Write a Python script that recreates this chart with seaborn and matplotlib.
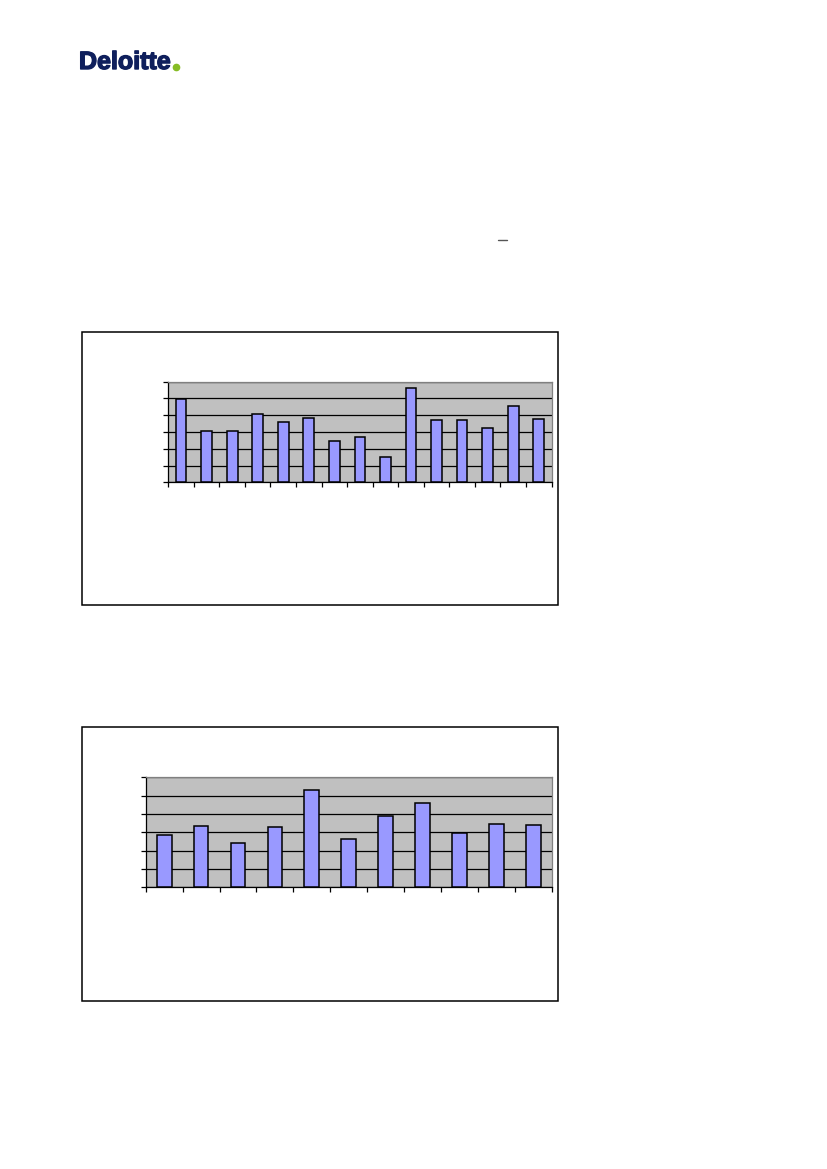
import pandas as pd
import matplotlib
matplotlib.use("Agg")
import matplotlib.pyplot as plt
import matplotlib.patheffects as pe
import seaborn as sns
from matplotlib.patches import Rectangle
from matplotlib.lines import Line2D

# values (no labels are shown in the source)
periods_1 = [str(i) for i in range(1, 16)]
values_1 = [4.94, 3.03, 3.03, 4.04, 3.57, 3.80, 2.43, 2.67, 1.53, 5.60, 3.69, 3.69, 3.21, 4.52, 3.75]

periods_2 = [str(i) for i in range(1, 12)]
values_2 = [2.84, 3.33, 2.40, 3.27, 5.29, 2.62, 3.87, 4.58, 2.95, 3.44, 3.38]

y_max = 6

BAR_COLOR = "#9999FF"
PLOT_BG = "#C0C0C0"
W, H = 827, 1169

sns.set_theme(style="white")
plt.rcParams["font.family"] = ["Liberation Sans", "DejaVu Sans"]

fig = plt.figure(figsize=(W / 100, H / 100), dpi=100)
fig.patch.set_facecolor("white")


def px_box(x0, y0, x1, y1):
    """pixel box (top-left origin) -> figure fraction [left, bottom, width, height]"""
    return [x0 / W, 1 - y1 / H, (x1 - x0) / W, (y1 - y0) / H]


def draw_chart(frame_px, axes_px, cats, vals, bar_width):
    # outer chart frame
    fx0, fy0, fx1, fy1 = frame_px
    fig.add_artist(Rectangle((fx0 / W, 1 - fy1 / H), (fx1 - fx0) / W, (fy1 - fy0) / H,
                             transform=fig.transFigure, fill=False,
                             edgecolor="black", linewidth=1.1))

    ax = fig.add_axes(px_box(*axes_px))
    df = pd.DataFrame({"period": cats, "value": vals})
    sns.barplot(data=df, x="period", y="value", ax=ax, color=BAR_COLOR,
                edgecolor="black", linewidth=1.1, width=bar_width,
                saturation=1, zorder=3)
    n = len(cats)
    ax.set_xlim(-0.5, n - 0.5)
    ax.set_ylim(0, y_max)
    ax.set_facecolor(PLOT_BG)

    ax.set_yticks(range(0, y_max + 1))
    ax.set_xticks([i - 0.5 for i in range(n + 1)])
    ax.set_xticklabels([])
    ax.set_yticklabels([])
    ax.set_xlabel("")
    ax.set_ylabel("")
    ax.yaxis.grid(True, color="black", linewidth=0.9, zorder=1)
    ax.set_axisbelow(True)
    ax.tick_params(axis="both", which="major", direction="out", length=3.5,
                   width=0.9, color="black", left=True, bottom=True)

    for side in ("top", "right"):
        ax.spines[side].set_color("#808080")
        ax.spines[side].set_linewidth(0.9)
    for side in ("left", "bottom"):
        ax.spines[side].set_color("black")
        ax.spines[side].set_linewidth(0.9)
    return ax


draw_chart((82, 331.5, 557.5, 605.3), (168.3, 381.5, 551.5, 482.3),
           periods_1, values_1, 0.42)
draw_chart((82, 727, 557.5, 1001.3), (145.7, 777.3, 551.7, 887.3),
           periods_2, values_2, 0.40)

# Deloitte wordmark
fig.text(79 / W, 1 - 69 / H, "Deloitte", fontsize=18, fontweight="bold",
         color="#0F1F5C", ha="left", va="baseline",
         path_effects=[pe.withStroke(linewidth=1.0, foreground="#0F1F5C")])
fig.add_artist(Line2D([175.5 / W], [1 - 66.5 / H], marker="o", markersize=4.5,
                      color="#86BC25", transform=fig.transFigure))

# small stray dash in the text area
fig.add_artist(Line2D([498 / W, 507 / W], [1 - 240.5 / H, 1 - 240.5 / H],
                      color="#555555", linewidth=1.0, transform=fig.transFigure))

fig.savefig("out.png", dpi=100, facecolor="white")
